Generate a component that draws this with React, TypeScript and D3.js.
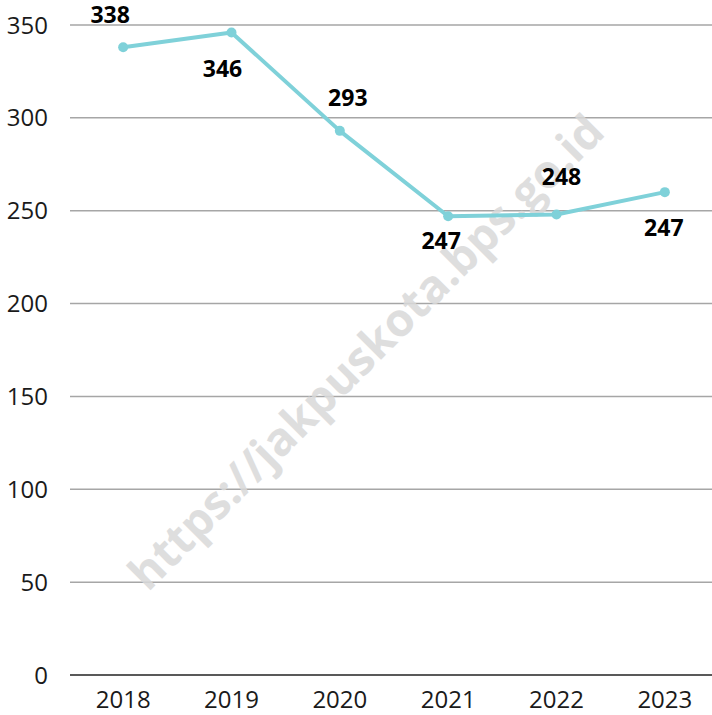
import React from "react";
import * as d3 from "d3";

const years = ["2018", "2019", "2020", "2021", "2022", "2023"];
const values = [338, 346, 293, 247, 248, 260];
const labelTexts = ["338", "346", "293", "247", "248", "247"];
const yTicks = [0, 50, 100, 150, 200, 250, 300, 350];

// layout offsets of the data labels (dx, dy relative to each point)
const labelDx = [-13, -9, 8, -7, 5, -1];
const labelDy = [-33, 36, -33, 24, -38, 36];

const W = 712;
const H = 715;
const FONT = "'Open Sans', 'Noto Sans', sans-serif";

export default function App() {
  const x = d3.scaleBand<string>().domain(years).range([69, 719]);
  const y = d3.scaleLinear().domain([0, 350]).range([675, 25]);
  const cx = (d: string) => (x(d) as number) + x.bandwidth() / 2;
  const line = d3
    .line<number>()
    .x((_, i) => cx(years[i]))
    .y((v) => y(v));

  return (
    <svg
      width={W}
      height={H}
      style={{ position: "absolute", left: 0, top: 0, background: "#fff" }}
      fontFamily={FONT}
    >
      <rect width={W} height={H} fill="#fff" />
      {yTicks.map((t) => (
        <g key={t}>
          <line
            x1={70}
            x2={W}
            y1={y(t)}
            y2={y(t)}
            stroke={t === 0 ? "#595959" : "#a6a6a6"}
            strokeWidth={t === 0 ? 2 : 1.5}
          />
          <text
            x={48}
            y={y(t)}
            dy="0.36em"
            textAnchor="end"
            fontSize={24}
            fill="#1a1a1a"
          >
            {t}
          </text>
        </g>
      ))}
      {years.map((yr) => (
        <text
          key={yr}
          x={cx(yr)}
          y={699}
          dy="0.36em"
          textAnchor="middle"
          fontSize={24}
          fill="#1a1a1a"
        >
          {yr}
        </text>
      ))}
      <text
        x={0}
        y={0}
        transform="translate(366,352) rotate(-45)"
        textAnchor="middle"
        dy="0.35em"
        fontSize={46}
        fontWeight="bold"
        fill="#d9d9d9"
        opacity={0.85}
      >
        https://jakpuskota.bps.go.id
      </text>
      <path
        d={line(values) || ""}
        fill="none"
        stroke="#7fd1d9"
        strokeWidth={4}
        strokeLinejoin="round"
      />
      {values.map((v, i) => (
        <circle key={i} cx={cx(years[i])} cy={y(v)} r={5} fill="#7fd1d9" />
      ))}
      {values.map((v, i) => (
        <text
          key={"l" + i}
          x={cx(years[i]) + labelDx[i]}
          y={y(v) + labelDy[i]}
          dy="0.36em"
          textAnchor="middle"
          fontSize={23}
          fontWeight="bold"
          fill="#000"
        >
          {labelTexts[i]}
        </text>
      ))}
    </svg>
  );
}
